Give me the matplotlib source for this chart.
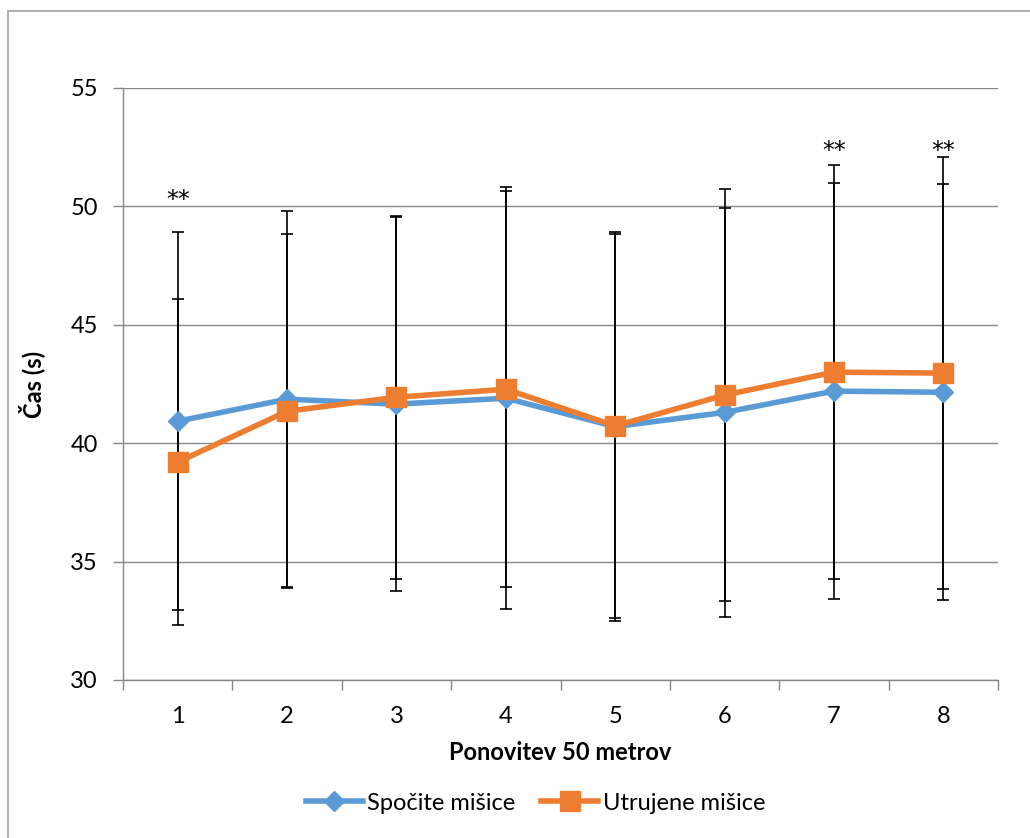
import matplotlib.pyplot as plt
import numpy as np
from matplotlib.lines import Line2D
from matplotlib.patches import Rectangle

plt.rcParams['font.family'] = ['Lato', 'DejaVu Sans']

ponovitve = [1, 2, 3, 4, 5, 6, 7, 8]
spocite = [40.93, 41.86, 41.65, 41.90, 40.70, 41.30, 42.20, 42.15]
spocite_sd = [7.98, 7.94, 7.90, 8.91, 8.20, 8.62, 8.78, 8.79]
utrujene = [39.20, 41.35, 41.94, 42.28, 40.73, 42.03, 43.00, 42.96]
utrujene_sd = [6.88, 7.48, 7.66, 8.36, 8.10, 8.70, 8.74, 9.12]
zvezdice = {1: 50.25, 7: 52.35, 8: 52.35}

blue = '#5B9BD5'
orange = '#ED7D31'
grid = '#878787'

fig = plt.figure(figsize=(10.30, 8.38), dpi=100)
ax = fig.add_axes([123 / 1030, 1 - 680 / 838, 875 / 1030, 592 / 838])

x = np.array(ponovitve)
ax.errorbar(x, spocite, yerr=spocite_sd, fmt='none', ecolor='black',
            elinewidth=1.2, capsize=4.3, capthick=1.2, zorder=2)
ax.errorbar(x, utrujene, yerr=utrujene_sd, fmt='none', ecolor='black',
            elinewidth=1.2, capsize=4.3, capthick=1.2, zorder=2)
ax.plot(x, spocite, color=blue, lw=4, marker='D', ms=10, mec=blue,
        solid_joinstyle='round', zorder=3)
ax.plot(x, utrujene, color=orange, lw=4, marker='s', ms=14, mec=orange,
        solid_joinstyle='round', zorder=4)

# oznake statistične značilnosti
for k, v in zvezdice.items():
    ax.text(k, v, '**', ha='center', va='center', fontsize=17,
            family='DejaVu Sans')

ax.set_xlim(0.5, 8.5)
ax.set_ylim(30, 55)
ax.set_yticks(range(30, 56, 5))
ax.set_xticks(x)
ax.set_xticks(np.arange(0.5, 9, 1), minor=True)
ax.tick_params(axis='x', which='major', length=0, pad=19, labelsize=17)
ax.tick_params(axis='x', which='minor', length=7, width=1, color=grid, direction='out')
ax.tick_params(axis='y', length=7, width=1, color=grid, pad=11, labelsize=17)
ax.yaxis.grid(True, color=grid, lw=1)
ax.set_axisbelow(True)
for s in ['top', 'right']:
    ax.spines[s].set_visible(False)
for s in ['left', 'bottom']:
    ax.spines[s].set_color(grid)
    ax.spines[s].set_linewidth(1)

ax.set_xlabel('Ponovitev 50 metrov', fontsize=17, fontweight='bold', labelpad=10)
ax.set_ylabel('Čas (s)', fontsize=17, fontweight='bold', labelpad=18)

handles = [
    Line2D([], [], color=blue, lw=4, marker='D', ms=10, mec=blue),
    Line2D([], [], color=orange, lw=4, marker='s', ms=14, mec=orange),
]
fig.legend(handles, ['Spočite mišice', 'Utrujene mišice'], loc='center',
           bbox_to_anchor=(0.52, 1 - 803 / 838), ncol=2, frameon=False,
           fontsize=17, handlelength=2.4, handletextpad=0.2, columnspacing=1.1)

fig.patches.append(Rectangle((8 / 1030, -0.1), 1.2, 1 - 11 / 838 + 0.1,
                             transform=fig.transFigure, fill=False,
                             edgecolor='#A0A0A0', lw=1.2))

fig.savefig('out.png', dpi=100)
